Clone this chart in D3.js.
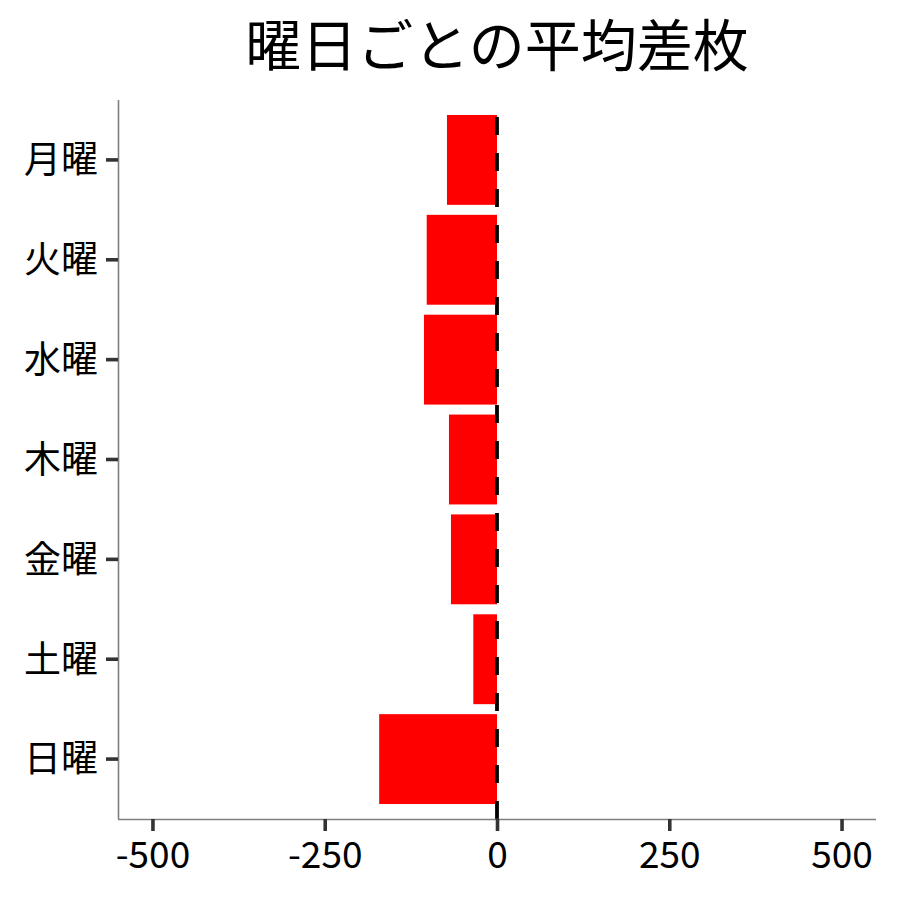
<!DOCTYPE html>
<html>
<head>
<meta charset="utf-8">
<script src="https://cdn.jsdelivr.net/npm/d3@7"></script>
<style>
  body { margin: 0; background: #fff; }
  svg { display: block; font-family: "Noto Sans CJK JP", "Noto Sans", sans-serif; }
</style>
</head>
<body>
<svg width="900" height="900"></svg>
<script>
const width = 900;
const height = 900;

const chartTitle = "曜日ごとの平均差枚";
const days = ["月曜", "火曜", "水曜", "木曜", "金曜", "土曜", "日曜"];
const avgDiff = [-72.6, -102.0, -106.0, -69.7, -66.8, -34.4, -171];
const xTicks = [-500, -250, 0, 250, 500];
const xDomain = [-550, 550];

const panel = {left: 118, right: 876, top: 100, bottom: 819};

const svg = d3.select("svg");

svg.append("rect")
    .attr("width", width)
    .attr("height", height)
    .attr("fill", "#fff");

const x = d3.scaleLinear()
    .domain(xDomain)
    .range([panel.left, panel.right]);

const y = d3.scaleBand()
    .domain(days)
    .range([panel.top, panel.bottom])
    .paddingInner(0.1)
    .paddingOuter(0.15);

// bars
svg.append("g")
    .selectAll("rect")
    .data(days.map((d, i) => ({day: d, value: avgDiff[i]})))
    .join("rect")
    .attr("x", d => x(Math.min(0, d.value)))
    .attr("y", d => y(d.day))
    .attr("width", d => Math.abs(x(d.value) - x(0)))
    .attr("height", y.bandwidth())
    .attr("fill", "#ff0000");

// zero reference line, dashed (drawn bottom-up)
svg.append("line")
    .attr("x1", x(0))
    .attr("x2", x(0))
    .attr("y1", panel.bottom)
    .attr("y2", panel.top)
    .attr("stroke", "#000")
    .attr("stroke-width", 3.8)
    .attr("stroke-dasharray", "18,18");

// axes
const xAxis = svg.append("g")
    .attr("transform", `translate(0,${panel.bottom})`)
    .call(d3.axisBottom(x).tickValues(xTicks).tickFormat(d => String(d))
        .tickSize(12).tickPadding(6).tickSizeOuter(0));

const yAxis = svg.append("g")
    .attr("transform", `translate(${panel.left},0)`)
    .call(d3.axisLeft(y).tickSize(12).tickPadding(8).tickSizeOuter(0));

[xAxis, yAxis].forEach(g => {
    g.select(".domain")
        .attr("stroke", "#7f7f7f")
        .attr("stroke-width", 1.6);
    g.selectAll(".tick line")
        .attr("stroke", "#333333")
        .attr("stroke-width", 3.6);
    g.selectAll(".tick text")
        .attr("fill", "#000")
        .style("font-family", "'Noto Sans CJK JP', sans-serif")
        .style("font-size", "37px");
});

xAxis.select(".domain").attr("d", `M${panel.left},0.5H${panel.right}`);
yAxis.select(".domain").attr("d", `M0.5,${panel.top}V${panel.bottom}`);

xAxis.selectAll(".tick text")
    .attr("dy", null)
    .attr("y", 49);

yAxis.selectAll(".tick text")
    .attr("dy", "0.36em");

svg.append("text")
    .attr("x", (panel.left + panel.right) / 2)
    .attr("y", 66)
    .attr("text-anchor", "middle")
    .style("font-size", "56px")
    .attr("fill", "#000")
    .text(chartTitle);
</script>
</body>
</html>
